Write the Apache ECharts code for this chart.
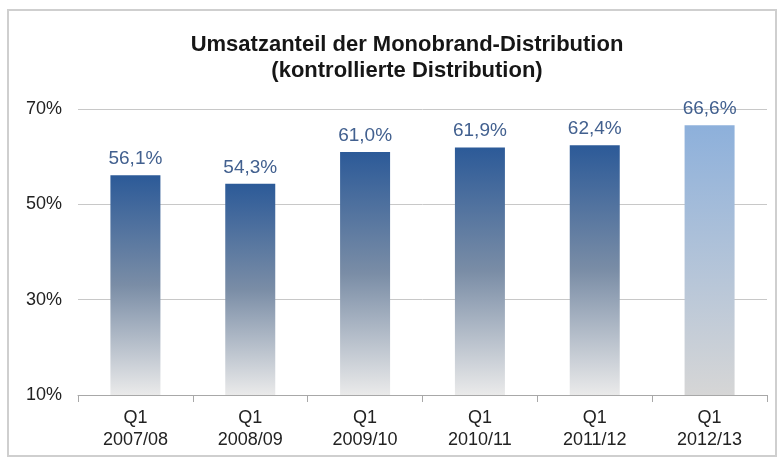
<!DOCTYPE html>
<html>
<head>
<meta charset="utf-8">
<script src="https://cdn.jsdelivr.net/npm/echarts@6/dist/echarts.min.js"></script>
<style>
  html, body { margin: 0; padding: 0; background: #fff; }
  #chart { width: 779px; height: 459px; }
</style>
</head>
<body>
<div id="chart"></div>
<script>
const categories = ['Q1\n2007/08', 'Q1\n2008/09', 'Q1\n2009/10', 'Q1\n2010/11', 'Q1\n2011/12', 'Q1\n2012/13']
const shares = [56.1, 54.3, 61.0, 61.9, 62.4, 66.6]
// last bar is drawn in the lighter blue
const highlight = [false, false, false, false, false, true]

const font = 'Liberation Sans, Arial, sans-serif'

function barGradient(light) {
  return new echarts.graphic.LinearGradient(0, 0, 0, 1, light ? [
    { offset: 0, color: '#8DB0DB' },
    { offset: 1, color: '#D6D6D6' }
  ] : [
    { offset: 0, color: '#2C5A98' },
    { offset: 0.5, color: '#7A8DA6' },
    { offset: 1, color: '#EAEAEA' }
  ])
}

let chart = echarts.init(document.getElementById('chart'))
let options = {
  animation: false,
  graphic: [{
    type: 'rect',
    shape: { x: 8, y: 10, width: 768, height: 446 },
    style: { fill: 'none', stroke: '#CFCFCF', lineWidth: 2 }
  }],
  title: {
    text: 'Umsatzanteil der Monobrand-Distribution\n(kontrollierte Distribution)',
    left: 402,
    top: 27,
    textAlign: 'center',
    textStyle: {
      fontFamily: font,
      fontWeight: 'bold',
      fontSize: 22,
      lineHeight: 26,
      color: '#161616'
    }
  },
  grid: {
    left: 78,
    right: 12,
    top: 109,
    bottom: 64
  },
  xAxis: {
    type: 'category',
    data: categories,
    axisLine: { lineStyle: { color: '#A8A8A8', width: 1 } },
    axisTick: { show: true, length: 7, lineStyle: { color: '#A8A8A8' } },
    axisLabel: {
      margin: 12,
      fontFamily: font,
      fontSize: 18,
      lineHeight: 22,
      color: '#222'
    }
  },
  yAxis: {
    type: 'value',
    min: 10,
    max: 70,
    interval: 20,
    axisLine: { show: false },
    axisTick: { show: false },
    splitLine: { lineStyle: { color: '#C8C8C8', width: 1 } },
    axisLabel: {
      formatter: '{value}%',
      margin: 16,
      fontFamily: font,
      fontSize: 18,
      color: '#222'
    }
  },
  series: [{
    type: 'bar',
    barWidth: 50,
    data: shares.map((v, i) => ({
      value: v,
      itemStyle: { color: barGradient(highlight[i]) }
    })),
    label: {
      show: true,
      position: 'top',
      distance: 7,
      fontFamily: font,
      fontSize: 19,
      color: '#42608F',
      formatter: p => p.value.toFixed(1).replace('.', ',') + '%'
    }
  }]
}

options && chart.setOption(options)
</script>
</body>
</html>
